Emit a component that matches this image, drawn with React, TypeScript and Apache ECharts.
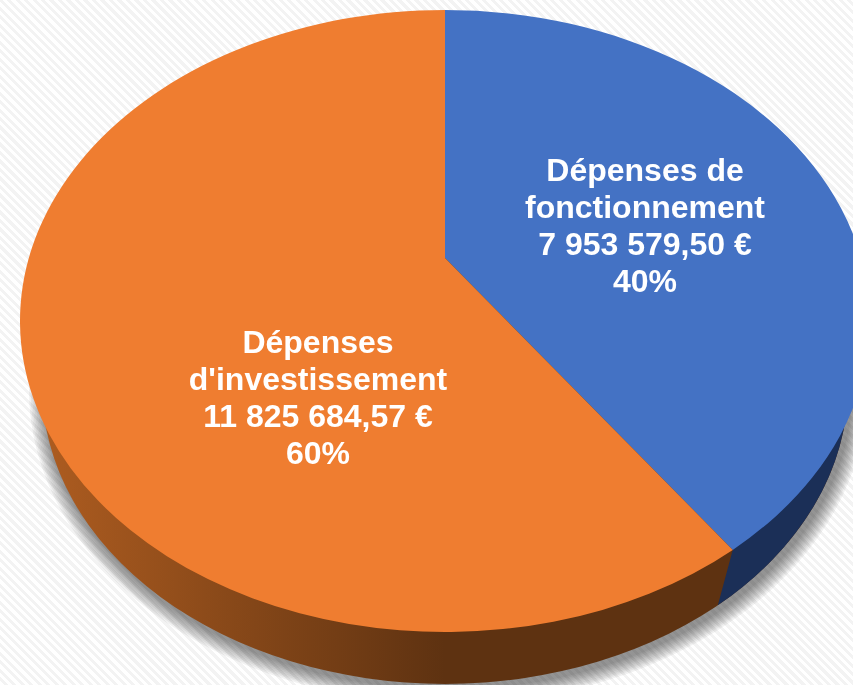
import React, { useEffect, useRef } from "react";
import * as echarts from "echarts";

const categories = ["Dépenses de\nfonctionnement", "Dépenses\nd'investissement"];
const amounts = [7953579.5, 11825684.57];
const amountLabels = ["7 953 579,50 €", "11 825 684,57 €"];
const percentLabels = ["40%", "60%"];

const sliceColors = ["#4472C4", "#EF7D30"];
const labelCenters = [[645, 225], [318, 397]];
const TOP = { cx: 445, cy: 321, rx: 425, ry: 311 };
const WALL = { cx: 445, cy: 386, rx: 403, ry: 298 };
const APEX_Y = 258;

const tilt = (APEX_Y - TOP.cy) / TOP.ry;
const total = amounts.reduce((a, b) => a + b, 0);

function unit(fraction: number) {
  const a = fraction * Math.PI * 2;
  const u = Math.sin(a);
  const v = -Math.cos(a);
  const d = 1 + tilt * v;
  return [(u * Math.sqrt(1 - tilt * tilt)) / d, (v + tilt) / d];
}
function onEllipse(e: typeof TOP, p: number[]) {
  return [e.cx + e.rx * p[0], e.cy + e.ry * p[1]];
}
function arcTo(e: typeof TOP, pt: number[], large: number, sweep: number) {
  return `A ${e.rx} ${e.ry} 0 ${large} ${sweep} ${pt[0]} ${pt[1]}`;
}
function wallOutline(grow: number, dx: number, dy: number) {
  const rx = WALL.rx + grow;
  const ry = WALL.ry + grow;
  const cx = WALL.cx + dx;
  const cy = WALL.cy + dy;
  return `M ${cx - rx} ${cy} A ${rx} ${ry} 0 1 0 ${cx + rx} ${cy} A ${rx} ${ry} 0 1 0 ${cx - rx} ${cy} Z`;
}

function renderItem(params: any, api: any) {
  const i = params.dataIndex;
  const before = amounts.slice(0, i).reduce((a, b) => a + b, 0) / total;
  const after = before + api.value(0) / total;
  const s = onEllipse(TOP, unit(before));
  const e = onEllipse(TOP, unit(after));
  const large = after - before > 0.5 ? 1 : 0;
  const apex = [TOP.cx, APEX_Y];
  const splitTop = onEllipse(TOP, unit(amounts[0] / total));
  const splitWall = onEllipse(WALL, unit(amounts[0] / total));

  const children: any[] = [];
  if (i === 0) {
    const right = [WALL.cx + WALL.rx, WALL.cy];
    children.push({
      type: "path",
      shape: {
        pathData: `M ${splitTop[0]} ${splitTop[1]} L ${splitWall[0]} ${splitWall[1]} ${arcTo(WALL, right, 0, 0)} L ${right[0]} 300 Z`,
      },
      style: { fill: "#1B2F57" },
      z2: 12,
    });
  } else {
    for (let k = 0; k < 10; k++) {
      children.push({
        type: "path",
        shape: { pathData: wallOutline(16 - k * 1.6, 3, 4) },
        style: { fill: "rgba(0,0,0,0.055)" },
        z2: 1 + k * 0.1,
      });
    }
    children.push({
      type: "path",
      shape: { pathData: wallOutline(0, 0, 0) },
      style: {
        fill: new echarts.graphic.LinearGradient(0, 0, 1, 0, [
          { offset: 0, color: "#AD5C20" },
          { offset: 0.5, color: "#5E3211" },
          { offset: 1, color: "#5E3211" },
        ]),
      },
      z2: 11,
    });
  }
  children.push({
    type: "path",
    shape: {
      pathData: `M ${apex[0]} ${apex[1]} L ${s[0]} ${s[1]} ${arcTo(TOP, e, large, 1)} Z`,
    },
    style: { fill: sliceColors[i] },
    z2: 13,
  });
  children.push({
    type: "text",
    x: labelCenters[i][0],
    y: labelCenters[i][1],
    style: {
      text: `${categories[i]}\n${amountLabels[i]}\n${percentLabels[i]}`,
      fill: "#FFFFFF",
      font: 'bold 32px "Liberation Sans", Arial, sans-serif',
      lineHeight: 37,
      align: "center",
      verticalAlign: "middle",
    },
    z2: 14,
  });
  return { type: "group", children };
}

export default function App() {
  const ref = useRef<HTMLDivElement>(null);
  useEffect(() => {
    const chart = echarts.init(ref.current!, null, { renderer: "svg" });
    chart.setOption({
      animation: false,
      backgroundColor: "transparent",
      series: [
        {
          type: "custom",
          coordinateSystem: "none",
          renderItem,
          data: amounts.map((v, i) => ({ name: categories[i], value: [v] })),
          silent: true,
          clip: false,
        },
      ],
    });
    return () => chart.dispose();
  }, []);
  return (
    <div
      style={{
        position: "absolute",
        left: 0,
        top: 0,
        width: 853,
        height: 685,
        overflow: "hidden",
        background:
          "repeating-linear-gradient(45deg, #ffffff 0px, #ffffff 3px, #f3f3f3 3px, #f3f3f3 6px)",
      }}
    >
      <div ref={ref} style={{ width: 853, height: 685, filter: "blur(0.6px)" }} />
    </div>
  );
}
